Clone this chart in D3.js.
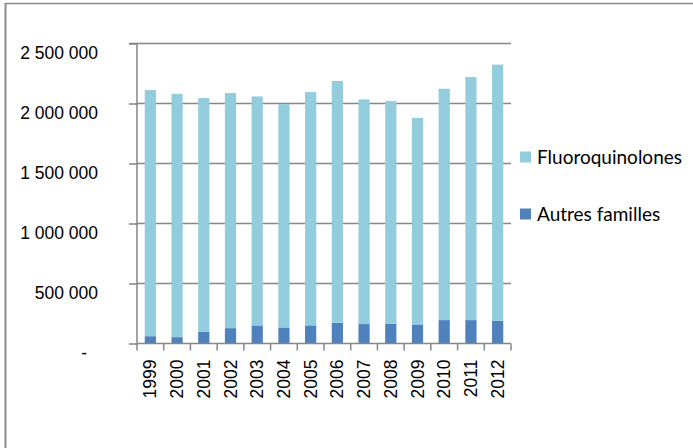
<!DOCTYPE html>
<html><head><meta charset="utf-8">
<script src="https://cdn.jsdelivr.net/npm/d3@7"></script>
<style>body{margin:0;background:#fff}svg{display:block}
.tk{font-family:'Liberation Sans',Arial,sans-serif;font-size:17.5px;fill:#000}
.lg{font-family:Lato,'Open Sans',sans-serif;font-size:19px;fill:#000}</style>
</head><body>
<svg id="c" width="693" height="448"></svg>
<script>
const years = ["1999","2000","2001","2002","2003","2004","2005","2006","2007","2008","2009","2010","2011","2012"];
const autres = [61000,53000,97000,128000,151000,134000,151000,173000,162000,164000,159000,195000,195000,189000];
const fluoro = [2051000,2028000,1948000,1959000,1908000,1861000,1944000,2015000,1872000,1856000,1721000,1928000,2026000,2135000];
const yTicks = [0,500000,1000000,1500000,2000000,2500000];
const seriesNames = ["Fluoroquinolones","Autres familles"];
const colors = {"Fluoroquinolones":"#93CDDD","Autres familles":"#4F81BD"};

const svg = d3.select("#c");
const L=137,R=511,T=43.5,B=343.5;
const x = d3.scaleBand().domain(years).range([L,R]).paddingInner(0.58).paddingOuter(0.29);
const y = d3.scaleLinear().domain([0,2500000]).range([B,T]);
const grid = "#868686";

// outer border (left & top)
svg.append("line").attr("x1",5.5).attr("x2",5.5).attr("y1",3).attr("y2",448).attr("stroke","#8c8c8c").attr("stroke-width",2);
svg.append("line").attr("x1",5).attr("x2",693).attr("y1",3.5).attr("y2",3.5).attr("stroke","#8c8c8c").attr("stroke-width",1.5);

// gridlines
svg.append("g").selectAll("line").data(yTicks.filter(d=>d>0)).join("line")
  .attr("x1",L).attr("x2",R).attr("y1",d=>y(d)).attr("y2",d=>y(d))
  .attr("stroke",grid).attr("stroke-width",1.5);

// stacked bars
const data = years.map((yr,i)=>({year:yr,"Autres familles":autres[i],"Fluoroquinolones":fluoro[i]}));
const stack = d3.stack().keys(["Autres familles","Fluoroquinolones"])(data);
svg.append("g").selectAll("g").data(stack).join("g").attr("fill",s=>colors[s.key])
  .selectAll("rect").data(s=>s).join("rect")
  .attr("x",d=>x(d.data.year)).attr("width",x.bandwidth())
  .attr("y",d=>y(d[1])).attr("height",d=>y(d[0])-y(d[1]));

// y axis
const yAxis = d3.axisLeft(y).tickValues(yTicks).tickSize(8).tickPadding(31)
  .tickFormat(d=> d===0 ? "-" : d3.format(",")(d).replace(/,/g," "));
const ga = svg.append("g").attr("transform",`translate(${L},0)`).call(yAxis).attr("font-family",null).attr("font-size",null);
ga.select(".domain").attr("stroke",grid).attr("stroke-width",1.5).attr("d",`M-8,${T}H0V${B}`);
ga.selectAll(".tick line").attr("stroke",grid).attr("stroke-width",1.5);
ga.selectAll(".tick text").attr("class","tk").attr("fill",null).attr("dy","0.85em");
ga.selectAll(".tick text").filter(d=>d===0).attr("dx",-11);

// x axis
const xAxis = d3.axisBottom(x).tickSize(0).tickPadding(0);
const gx = svg.append("g").attr("transform",`translate(0,${B})`).call(xAxis).attr("font-family",null).attr("font-size",null);
gx.select(".domain").attr("stroke",grid).attr("stroke-width",1.5).attr("d",`M${L},0H${R}`);
gx.selectAll(".tick text").attr("class","tk").attr("fill",null)
  .attr("transform","rotate(-90)").attr("text-anchor","end").attr("x",-16).attr("y",0).attr("dy","0.35em");
// boundary ticks
svg.append("g").selectAll("line").data(d3.range(years.length+1)).join("line")
  .attr("x1",i=>L+i*(R-L)/years.length).attr("x2",i=>L+i*(R-L)/years.length)
  .attr("y1",B).attr("y2",B+7).attr("stroke",grid).attr("stroke-width",1.5);

// legend
const leg = svg.append("g");
const legY = [157,214];
seriesNames.forEach((n,i)=>{
  leg.append("rect").attr("x",520).attr("y",legY[i]-5.5).attr("width",11).attr("height",11).attr("fill",colors[n]);
  leg.append("text").attr("class","lg").attr("x",537).attr("y",legY[i]).attr("dy","0.35em").text(n);
});
</script>
</body></html>
